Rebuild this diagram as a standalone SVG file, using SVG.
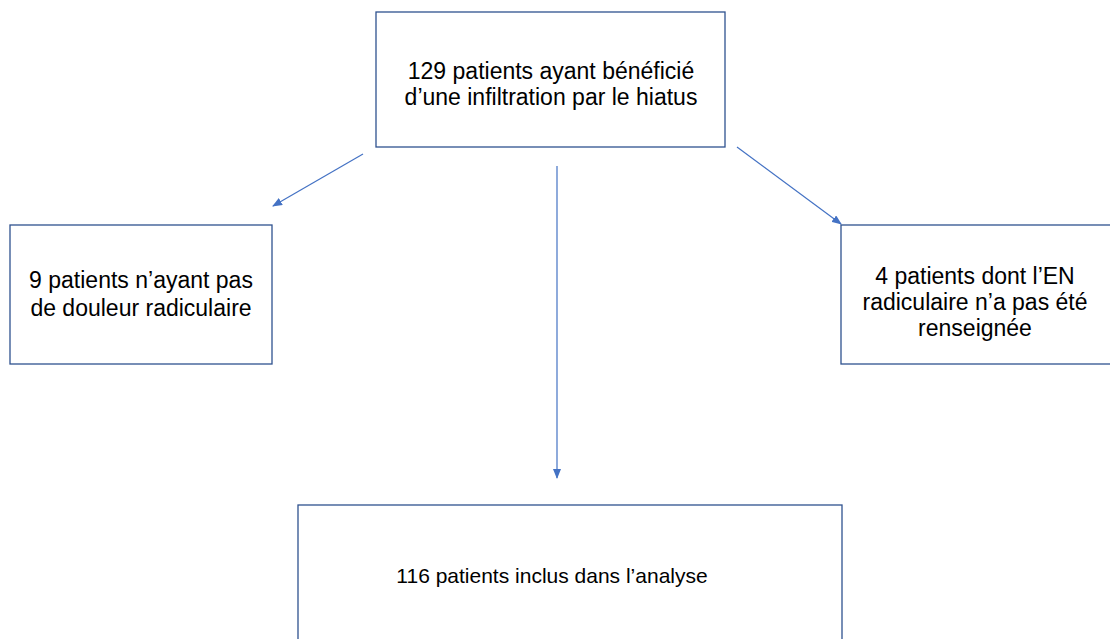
<svg xmlns="http://www.w3.org/2000/svg" width="1110" height="639" viewBox="0 0 1110 639">
<style>
.box{fill:#ffffff;stroke:#2F528F;stroke-width:1.3}
.t{font-family:"Liberation Sans",Arial,sans-serif;font-size:23px;fill:#000000;text-anchor:middle}
.conn{stroke:#4472C4;stroke-width:1.2;fill:none}
</style>
<defs>
<marker id="ah" markerWidth="10" markerHeight="8" refX="9" refY="4" orient="auto" markerUnits="userSpaceOnUse">
<path d="M0,0 L10,4 L0,8 Z" fill="#4472C4"/>
</marker>
</defs>
<rect width="1110" height="639" fill="#ffffff"/>
<g id="connectors">
<line class="conn" x1="363" y1="154" x2="273" y2="206" marker-end="url(#ah)"/>
<line class="conn" x1="557" y1="166" x2="557" y2="478" marker-end="url(#ah)"/>
<line class="conn" x1="737" y1="147" x2="841" y2="224" marker-end="url(#ah)"/>
</g>
<g id="node-top">
<rect class="box" x="376" y="12" width="349" height="135"/>
<text class="t" x="551" y="79">129 patients ayant bénéficié</text>
<text class="t" x="551" y="105">d’une infiltration par le hiatus</text>
</g>
<g id="node-left">
<rect class="box" x="10" y="225" width="262" height="139"/>
<text class="t" x="141" y="288">9 patients n’ayant pas</text>
<text class="t" x="141" y="316">de douleur radiculaire</text>
</g>
<g id="node-right">
<rect class="box" x="841" y="225" width="275" height="139"/>
<text class="t" x="975" y="284">4 patients dont l’EN</text>
<text class="t" x="975" y="310">radiculaire n’a pas été</text>
<text class="t" x="975" y="336">renseignée</text>
</g>
<g id="node-bottom">
<rect class="box" x="298" y="505" width="544" height="145"/>
<text class="t" x="552" y="583" style="font-size:21px">116 patients inclus dans l’analyse</text>
</g>
</svg>
